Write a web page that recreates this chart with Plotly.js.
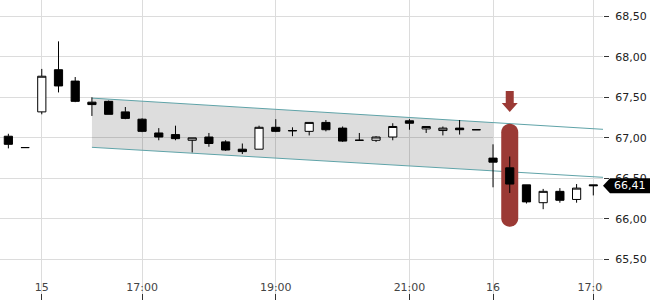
<!DOCTYPE html>
<html>
<head>
<meta charset="utf-8">
<script src="https://cdn.plot.ly/plotly-3.0.1.min.js"></script>
<style>html,body{margin:0;padding:0;background:#fff;}#chart{width:650px;height:300px;}</style>
</head>
<body>
<div id="chart"></div>
<script>
var times = ['14 21:45','14 22:00',
  '15 15:30','15 15:45','15 16:00','15 16:15','15 16:30','15 16:45','15 17:00','15 17:15','15 17:30','15 17:45',
  '15 18:00','15 18:15','15 18:30','15 18:45','15 19:00','15 19:15','15 19:30','15 19:45','15 20:00','15 20:15',
  '15 20:30','15 20:45','15 21:00','15 21:15','15 21:30','15 21:45','15 22:00',
  '16 15:30','16 15:45','16 16:00','16 16:15','16 16:30','16 16:45','16 17:00'];
var openV  = [67.02,66.88, 67.32,67.84,67.70,67.44,67.45,67.32,67.23,67.06,67.04,66.97,67.01,66.95,66.86,66.86,67.13,67.085,67.08,67.19,67.12,66.97,66.97,67.01,67.21,67.11,67.09,67.12,67.10, 66.75,66.63,66.42,66.20,66.34,66.24,66.42];
var highV  = [67.05,66.88, 67.85,68.19,67.75,67.50,67.46,67.38,67.24,67.12,67.15,67.00,67.06,66.97,66.93,67.15,67.23,67.13,67.19,67.22,67.14,67.06,67.02,67.18,67.23,67.14,67.14,67.22,67.10, 66.92,66.77,66.42,66.37,66.38,66.43,66.42];
var lowV   = [66.87,66.88, 67.29,67.56,67.44,67.27,67.29,67.23,67.07,66.97,66.97,66.82,66.89,66.84,66.80,66.86,67.07,67.02,67.03,67.08,66.95,66.97,66.95,66.97,67.10,67.06,67.03,67.04,67.10, 66.39,66.32,66.19,66.12,66.20,66.20,66.29];
var closeV = [66.92,66.88, 67.76,67.64,67.45,67.41,67.29,67.24,67.08,67.01,66.99,67.00,66.93,66.85,66.83,67.13,67.08,67.09,67.19,67.10,66.96,66.97,67.01,67.14,67.18,67.14,67.12,67.10,67.10, 66.70,66.43,66.21,66.34,66.23,66.38,66.41];

var tickTimes  = ['15 15:30','15 17:00','15 19:00','15 21:00','16 15:30','16 17:00'];
var tickLabels = ['15','17:00','19:00','21:00','16','17:00'];
var priceTicks = [65.5,66.0,66.5,67.0,67.5,68.0,68.5];

// trend channel
var channelStart = '15 16:15';
var channelFillEnd = '16 15:30';
var channelUpper = [67.49, 67.105];   // at start, at right edge
var channelLower = [66.883, 66.513];
var highlightTime = '16 15:45';
var highlightMid = 66.54;
var arrowTip = 67.32;

var xMin = -0.5, xMax = times.length - 0.42;
var lastClose = closeV[closeV.length - 1];

var i0 = times.indexOf(channelStart);
var iF = times.indexOf(channelFillEnd);
function lin(arr, x) { return arr[0] + (arr[1] - arr[0]) * (x - i0) / (xMax - i0); }

var red = '#9b3a35';
var teal = '#5fa3a8';

var hl = times.indexOf(highlightTime);
var shapes = [
  {type:'path', layer:'between', xref:'x', yref:'y', line:{width:0}, fillcolor:'rgba(0,0,0,0.135)',
   path:'M'+i0+','+channelUpper[0]+' L'+iF+','+lin(channelUpper,iF)+' L'+iF+','+lin(channelLower,iF)+' L'+i0+','+channelLower[0]+' Z'},
  {type:'line', layer:'between', xref:'x', yref:'y', x0:i0, x1:xMax, y0:channelUpper[0], y1:channelUpper[1], line:{color:teal, width:1}},
  {type:'line', layer:'between', xref:'x', yref:'y', x0:i0, x1:xMax, y0:channelLower[0], y1:channelLower[1], line:{color:teal, width:1}},
  {type:'path', layer:'between', xref:'x', yref:'y', xsizemode:'pixel', ysizemode:'pixel', xanchor:hl, yanchor:highlightMid,
   line:{width:0}, fillcolor:red,
   path:'M-8.5,-43 L-8.5,43 C-8.5,47.7 -4.7,51.5 0,51.5 C4.7,51.5 8.5,47.7 8.5,43 L8.5,-43 C8.5,-47.7 4.7,-51.5 0,-51.5 C-4.7,-51.5 -8.5,-47.7 -8.5,-43 Z'},
  {type:'path', layer:'above', xref:'x', yref:'y', xsizemode:'pixel', ysizemode:'pixel', xanchor:hl, yanchor:arrowTip,
   line:{width:0}, fillcolor:red,
   path:'M0,0 L-8,9 L-4,9 L-4,21 L4,21 L4,9 L8,9 Z'},
  {type:'path', layer:'above', xref:'paper', yref:'y', xsizemode:'pixel', ysizemode:'pixel', xanchor:1, yanchor:lastClose,
   line:{width:0}, fillcolor:'#000',
   path:'M0,0 L7,7.5 L48,7.5 L48,-7.5 L7,-7.5 Z'},
  // the last time label is cut off at the plot's right edge
  {type:'rect', layer:'above', xref:'paper', yref:'paper', x0:1, x1:1.02, y0:0.02, y1:0.085,
   line:{width:0}, fillcolor:'#fff'}
];

var trace = {
  type:'candlestick', x:times, open:openV, high:highV, low:lowV, close:closeV,
  increasing:{line:{color:'#000', width:1}, fillcolor:'#fff'},
  decreasing:{line:{color:'#000', width:1}, fillcolor:'#000'},
  whiskerwidth:0, hoverinfo:'skip', showlegend:false
};

var layout = {
  width:650, height:300,
  margin:{l:0, r:47, t:0, b:0, pad:0},
  paper_bgcolor:'#fff', plot_bgcolor:'#fff',
  separators:',.',
  font:{family:'DejaVu Sans', size:11, color:'#222'},
  showlegend:false,
  xaxis:{type:'category', range:[xMin, xMax], rangeslider:{visible:false},
    tickmode:'array', tickvals:tickTimes, ticktext:tickLabels,
    ticks:'inside', ticklen:6, tickcolor:'#333', ticklabelposition:'inside', ticklabeloverflow:'allow',
    showgrid:true, gridcolor:'#dcdcdc', gridwidth:1, zeroline:false, showline:false,
    fixedrange:true, automargin:false},
  yaxis:{side:'right', range:[65.0, 68.70], tickmode:'array', tickvals:priceTicks,
    tickformat:'.2f', ticks:'outside', ticklen:5, tickcolor:'#333', ticklabelstandoff:4,
    showgrid:true, gridcolor:'#dcdcdc', gridwidth:1, zeroline:false, showline:false,
    fixedrange:true, automargin:false},
  shapes:shapes,
  annotations:[{xref:'paper', yref:'y', x:1, y:lastClose, xanchor:'left', yanchor:'middle', xshift:9,
    text:lastClose.toFixed(2).replace('.', ','), showarrow:false, font:{color:'#fff', size:11, family:'DejaVu Sans'}}]
};

Plotly.newPlot('chart', [trace], layout, {displayModeBar:false, staticPlot:true});
</script>
</body>
</html>
